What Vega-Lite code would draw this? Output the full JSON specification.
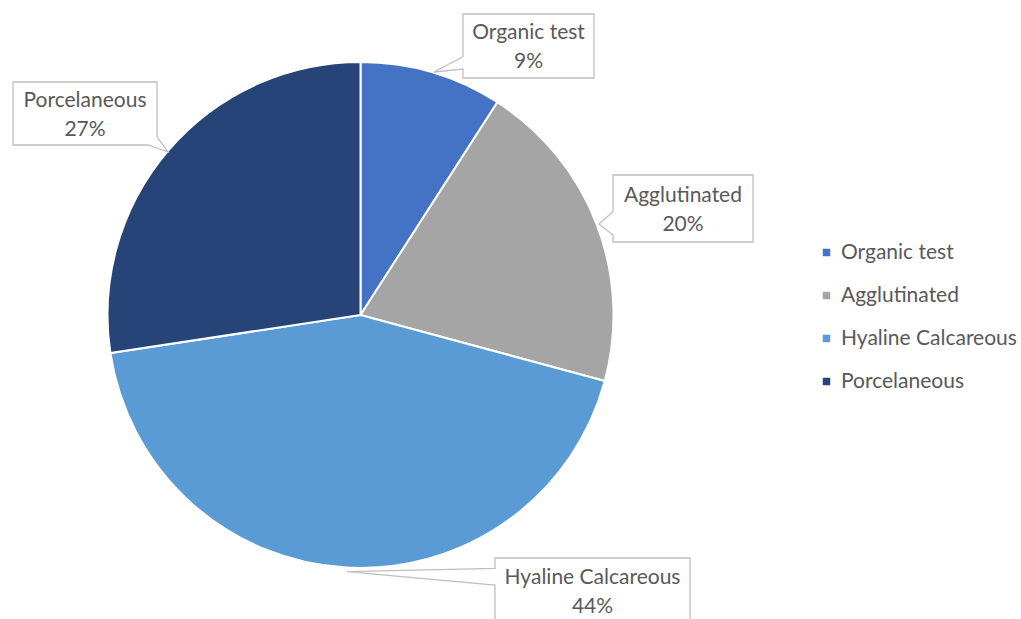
{
  "$schema": "https://vega.github.io/schema/vega-lite/v6.json",
  "width": 1021,
  "height": 619,
  "autosize": "none",
  "padding": 0,
  "background": "white",
  "config": {"view": {"stroke": null}, "font": "Lato"},
  "data": {
    "values": [
      {"category": "Organic test", "share": 9.1, "pct": "9%", "rank": 1},
      {"category": "Agglutinated", "share": 20.1, "pct": "20%", "rank": 2},
      {"category": "Hyaline Calcareous", "share": 43.4, "pct": "44%", "rank": 3},
      {"category": "Porcelaneous", "share": 27.4, "pct": "27%", "rank": 4}
    ]
  },
  "layer": [
    {
      "mark": {"type": "arc", "outerRadius": 253, "stroke": "white", "strokeWidth": 2},
      "encoding": {
        "theta": {"field": "share", "type": "quantitative", "stack": true},
        "order": {"field": "rank", "type": "quantitative"},
        "color": {
          "field": "category",
          "type": "nominal",
          "scale": {
            "domain": ["Organic test", "Agglutinated", "Hyaline Calcareous", "Porcelaneous"],
            "range": ["#4472C4", "#A5A5A5", "#5B9BD5", "#264478"]
          },
          "legend": {
            "orient": "none",
            "legendX": 816,
            "legendY": 242,
            "title": null,
            "symbolType": "square",
            "symbolSize": 56,
            "symbolStrokeWidth": 0,
            "labelFontSize": 21,
            "labelColor": "#595959",
            "labelFont": "Lato",
            "labelLimit": 400,
            "rowPadding": 21,
            "labelOffset": 4,
            "padding": 0
          }
        },
        "x": {"datum": 0, "type": "quantitative", "scale": {"domain": [-1.4249, 2.61067], "nice": false, "zero": false}, "axis": null},
        "y": {"datum": 0, "type": "quantitative", "scale": {"domain": [-1.20158, 1.24506], "nice": false, "zero": false}, "axis": null}
      }
    },
    {
      "transform": [{"filter": "datum.category === 'Organic test'"}],
      "encoding": {"x": {"datum": 0.664, "type": "quantitative"}, "y": {"datum": 1.0632, "type": "quantitative"}},
      "layer": [
        {"mark": {"type": "point", "shape": "M-65.5,-32H65.5V32H-65.5V23L-94.5,26L-65.5,10.7Z", "size": 4, "filled": true, "fill": "white", "stroke": "#BFBFBF", "strokeWidth": 1.3, "opacity": 1}},
        {"mark": {"type": "text", "dy": -13, "fontSize": 21, "color": "#595959", "font": "Lato"}, "encoding": {"text": {"field": "category"}}},
        {"mark": {"type": "text", "dy": 16, "fontSize": 21, "color": "#595959", "font": "Lato"}, "encoding": {"text": {"field": "pct"}}}
      ]
    },
    {
      "transform": [{"filter": "datum.category === 'Agglutinated'"}],
      "encoding": {"x": {"datum": 1.2747, "type": "quantitative"}, "y": {"datum": 0.4209, "type": "quantitative"}},
      "layer": [
        {"mark": {"type": "point", "shape": "M-70,-33.5H70V33.5H-70V26.5L-84,15.5L-70,3.2Z", "size": 4, "filled": true, "fill": "white", "stroke": "#BFBFBF", "strokeWidth": 1.3, "opacity": 1}},
        {"mark": {"type": "text", "dy": -13, "fontSize": 21, "color": "#595959", "font": "Lato"}, "encoding": {"text": {"field": "category"}}},
        {"mark": {"type": "text", "dy": 16, "fontSize": 21, "color": "#595959", "font": "Lato"}, "encoding": {"text": {"field": "pct"}}}
      ]
    },
    {
      "transform": [{"filter": "datum.category === 'Hyaline Calcareous'"}],
      "encoding": {"x": {"datum": 0.917, "type": "quantitative"}, "y": {"datum": -1.0909, "type": "quantitative"}},
      "layer": [
        {"mark": {"type": "point", "shape": "M-97.5,-33H97.5V33H-97.5V-6L-245.8,-19.3L-97.5,-22.7Z", "size": 4, "filled": true, "fill": "white", "stroke": "#BFBFBF", "strokeWidth": 1.3, "opacity": 1}},
        {"mark": {"type": "text", "dy": -13, "fontSize": 21, "color": "#595959", "font": "Lato"}, "encoding": {"text": {"field": "category"}}},
        {"mark": {"type": "text", "dy": 16, "fontSize": 21, "color": "#595959", "font": "Lato"}, "encoding": {"text": {"field": "pct"}}}
      ]
    },
    {
      "transform": [{"filter": "datum.category === 'Porcelaneous'"}],
      "encoding": {"x": {"datum": -1.0889, "type": "quantitative"}, "y": {"datum": 0.7964, "type": "quantitative"}},
      "layer": [
        {"mark": {"type": "point", "shape": "M-72,-31.5H72V23.2L83,38.5L63,31.5H-72Z", "size": 4, "filled": true, "fill": "white", "stroke": "#BFBFBF", "strokeWidth": 1.3, "opacity": 1}},
        {"mark": {"type": "text", "dy": -13, "fontSize": 21, "color": "#595959", "font": "Lato"}, "encoding": {"text": {"field": "category"}}},
        {"mark": {"type": "text", "dy": 16, "fontSize": 21, "color": "#595959", "font": "Lato"}, "encoding": {"text": {"field": "pct"}}}
      ]
    }
  ]
}
